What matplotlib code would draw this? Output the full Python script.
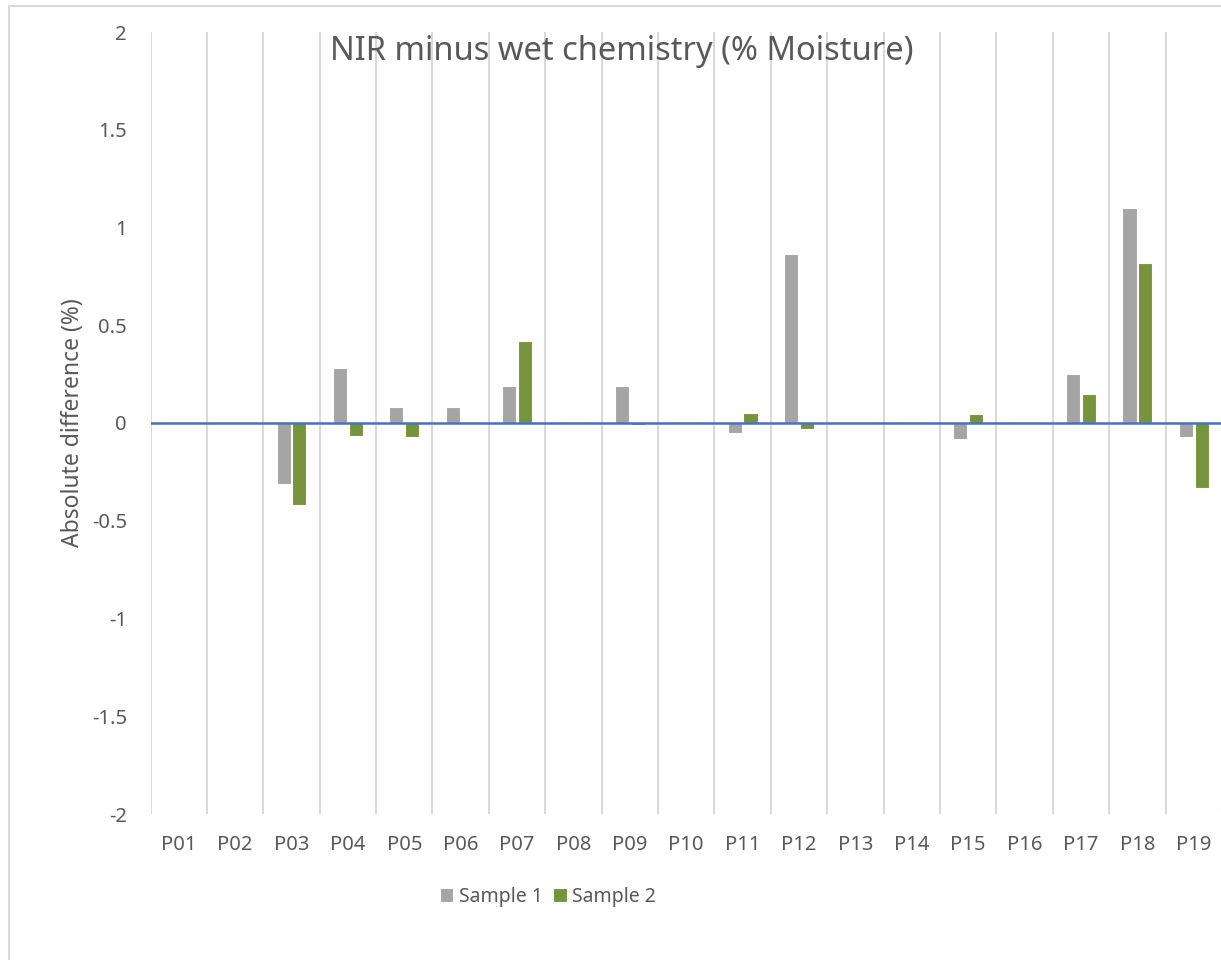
import numpy as np
import matplotlib.pyplot as plt
from matplotlib.patches import Rectangle

plt.rcParams['font.family'] = ['Noto Sans', 'DejaVu Sans']

# data
labels = ['P01', 'P02', 'P03', 'P04', 'P05', 'P06', 'P07', 'P08', 'P09', 'P10',
          'P11', 'P12', 'P13', 'P14', 'P15', 'P16', 'P17', 'P18', 'P19']
sample1 = [np.nan, np.nan, -0.31, 0.28, 0.083, 0.083, 0.19, np.nan, 0.19, np.nan,
           -0.053, 0.864, np.nan, np.nan, -0.082, np.nan, 0.249, 1.10, -0.073]
sample2 = [np.nan, np.nan, -0.42, -0.067, -0.072, 0.003, 0.42, np.nan, -0.012, np.nan,
           0.053, -0.03, np.nan, np.nan, 0.044, np.nan, 0.148, 0.818, -0.333]

text_col = '#595959'
grey = '#A5A5A5'
green = '#77933C'

fig = plt.figure(figsize=(12.21, 9.6), dpi=100)
W, H = 1221, 960
ax = fig.add_axes([150.5 / W, (H - 814) / H, (1222 - 150.5) / W, (814 - 32) / H])

x = np.arange(len(labels))
w = 0.25
ax.bar(x - 0.14, sample1, w, color=grey, edgecolor='white', linewidth=0.8, label='Sample 1', zorder=3)
ax.bar(x + 0.14, sample2, w, color=green, edgecolor='white', linewidth=0.8, label='Sample 2', zorder=3)

# category separator gridlines
for b in np.arange(-0.5, len(labels) + 0.5, 1):
    ax.axvline(b, color='#D9D9D9', lw=1.5, zorder=1)
ax.axhline(0, color='#4472C4', lw=1.8, zorder=4)

ax.set_xlim(-0.5, len(labels) - 0.5)
ax.set_ylim(-2, 2)
ax.set_yticks([-2, -1.5, -1, -0.5, 0, 0.5, 1, 1.5, 2])
ax.set_yticklabels(['-2', '-1.5', '-1', '-0.5', '0', '0.5', '1', '1.5', '2'])
ax.set_xticks(x)
ax.set_xticklabels(labels)
ax.tick_params(axis='both', length=0, labelsize=14.5, labelcolor=text_col)
ax.tick_params(axis='y', pad=17)
ax.tick_params(axis='x', pad=15)
for s in ax.spines.values():
    s.set_visible(False)

ax.set_ylabel('Absolute difference (%)', fontsize=16.5, color=text_col, labelpad=5)
fig.text(622 / W, 1 - 51 / H, 'NIR minus wet chemistry (% Moisture)', ha='center', va='center',
         fontsize=23.5, color=text_col)

fig.legend(loc='center', bbox_to_anchor=(548 / W, 1 - 897 / H), ncol=2, frameon=False,
           fontsize=14, handlelength=0.7, handleheight=0.7, columnspacing=0.5,
           handletextpad=0.3, labelcolor=text_col)

# chart border
fig.patches.append(Rectangle((8.5 / W, -0.1), 1.2, 1 - 5.5 / H + 0.1, transform=fig.transFigure,
                             fill=False, edgecolor='#D9D9D9', lw=1.5))

fig.savefig('out.png', dpi=100)
